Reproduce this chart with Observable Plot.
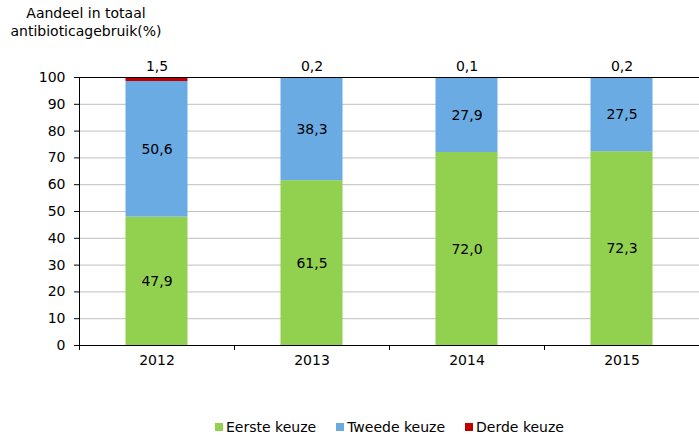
<!DOCTYPE html>
<html>
<head>
<meta charset="utf-8">
<script src="https://cdn.jsdelivr.net/npm/d3@7"></script>
<script src="https://cdn.jsdelivr.net/npm/@observablehq/plot@0.6"></script>
<style>
  body { margin: 0; background: #fff; font-family: Verdana, "DejaVu Sans", sans-serif; }
  #wrap { position: relative; width: 699px; height: 436px; }
  #title { position: absolute; left: 0; top: 4px; width: 172px; text-align: center; font-size: 14px; line-height: 18px; color: #000; }
  #legend { position: absolute; top: 420px; left: 215px; display: flex; font-size: 14px; line-height: 14px; color: #000; }
  #legend .item { display: flex; align-items: center; margin-right: 20px; }
  #legend .sw { width: 8px; height: 8px; margin-right: 3px; }
</style>
</head>
<body>
<div id="wrap">
  <div id="chart"></div>
  <div id="title">Aandeel in totaal<br>antibioticagebruik(%)</div>
  <div id="legend"></div>
</div>
<script>
const years = ["2012", "2013", "2014", "2015"];
const seriesNames = ["Eerste keuze", "Tweede keuze", "Derde keuze"];
const seriesColors = ["#92d050", "#6aabe3", "#c00000"];
const eerste = [47.9, 61.5, 72.0, 72.3];
const tweede = [50.6, 38.3, 27.9, 27.5];
const derde = [1.5, 0.2, 0.1, 0.2];
const yTicks = [0, 10, 20, 30, 40, 50, 60, 70, 80, 90, 100];

const seriesValues = [eerste, tweede, derde];
const data = [];
years.forEach((y, i) => {
  seriesNames.forEach((s, j) => {
    data.push({ year: y, i, series: s, value: seriesValues[j][i] });
  });
});
const fmt = v => v.toFixed(1).replace(".", ",");
const font = 'Verdana, "DejaVu Sans", sans-serif';

const chart = Plot.plot({
  width: 699,
  height: 436,
  marginTop: 77,
  marginBottom: 91,
  marginLeft: 79,
  marginRight: 0,
  style: { fontFamily: font, fontSize: "14px", color: "#000", background: "#fff" },
  x: { type: "linear", domain: [0, years.length] },
  y: { domain: [0, 100] },
  color: { domain: seriesNames, range: seriesColors },
  marks: [
    Plot.gridY(yTicks, { stroke: "#bfbfbf", strokeOpacity: 1 }),
    Plot.rectY(data, Plot.stackY({
      x1: d => d.i, x2: d => d.i + 1, y: "value", fill: "series",
      order: seriesNames, insetLeft: 46.5, insetRight: 46.5
    })),
    Plot.text(data, Plot.stackY({
      x: d => d.i + 0.5, y: "value", z: "series", order: seriesNames,
      text: d => d.series !== "Derde keuze" ? fmt(d.value) : null,
      fill: "#000", fontSize: 14
    })),
    Plot.text(data, Plot.stackY2({
      x: d => d.i + 0.5, y: "value", z: "series", order: seriesNames,
      text: d => d.series === "Derde keuze" ? fmt(d.value) : null,
      fill: "#000", fontSize: 14, dy: -11
    })),
    Plot.ruleY([100], { stroke: "#000" }),
    Plot.ruleY([0], { stroke: "#000" }),
    Plot.ruleX([0], { stroke: "#000" }),
    Plot.axisY(yTicks, { tickSize: 5, tickPadding: 9, label: null, fontSize: 14 }),
    Plot.axisX(years.map((_, i) => i + 0.5), {
      tickSize: 0, tickPadding: 10, label: null, fontSize: 14,
      tickFormat: v => years[Math.floor(v)]
    }),
    Plot.axisX(d3.range(0, years.length + 1), {
      tickSize: 5, tickFormat: () => "", label: null
    })
  ]
});
document.getElementById("chart").appendChild(chart);

const legend = document.getElementById("legend");
seriesNames.forEach((s, j) => {
  const item = document.createElement("div");
  item.className = "item";
  const sw = document.createElement("span");
  sw.className = "sw";
  sw.style.background = seriesColors[j];
  const t = document.createElement("span");
  t.textContent = s;
  item.appendChild(sw);
  item.appendChild(t);
  legend.appendChild(item);
});
</script>
</body>
</html>
